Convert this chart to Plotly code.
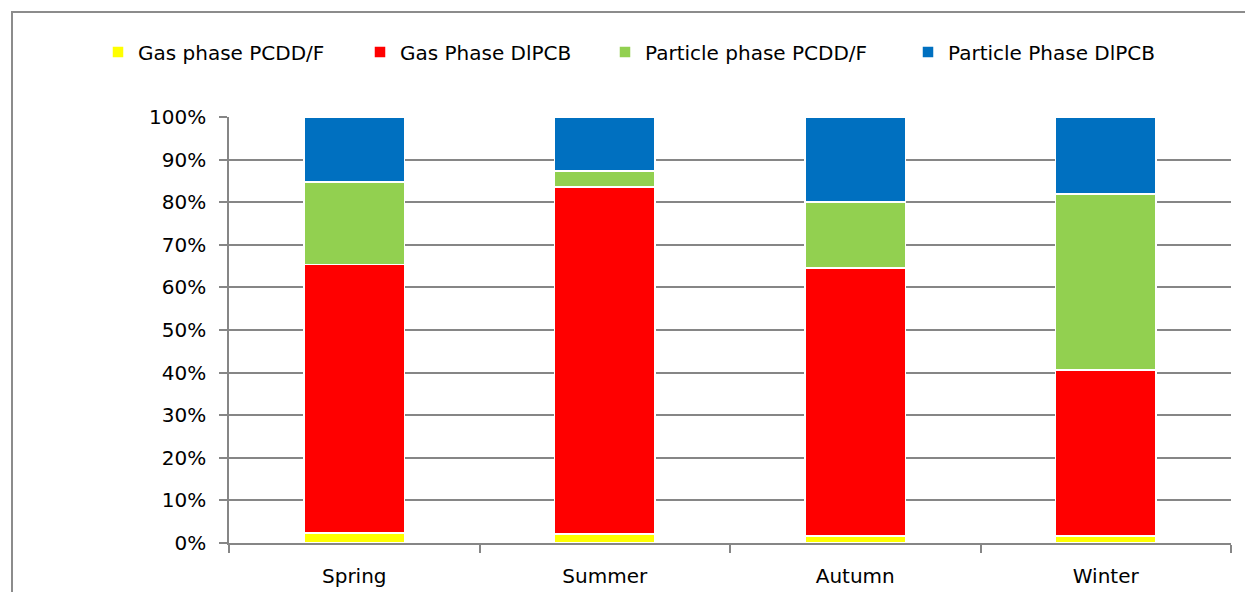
import plotly.graph_objects as go

seasons = ["Spring", "Summer", "Autumn", "Winter"]
gas_pcdd = [2.4, 2.1, 1.6, 1.7]
gas_dlpcb = [63.0, 81.5, 62.9, 38.9]
part_pcdd = [19.4, 3.7, 15.5, 41.3]
part_dlpcb = [15.2, 12.7, 20.0, 18.1]

series = [
    ("Gas phase PCDD/F", gas_pcdd, "#FFFF00"),
    ("Gas Phase DlPCB", gas_dlpcb, "#FF0000"),
    ("Particle phase PCDD/F", part_pcdd, "#92D050"),
    ("Particle Phase DlPCB", part_dlpcb, "#0070C0"),
]

FONT = "DejaVu Sans"
OFF = 8  # default page body margin
W, H = 1253 - OFF, 592 - OFF
L, T = 229 - OFF, 117 - OFF
pw, ph = 1002, 426
R, B = W - L - pw, H - T - ph

# legend text start positions (window px)
leg_text_x = [138, 400, 645, 948]
legend_ids = ["legend", "legend2", "legend3", "legend4"]

fig = go.Figure()
for (name, vals, col), lid in zip(series, legend_ids):
    fig.add_trace(go.Bar(
        x=seasons, y=vals, name=name, legend=lid,
        marker=dict(color=col, line=dict(color="white", width=1.5)),
        width=0.4,
    ))

legends = {}
for lid, tx in zip(legend_ids, leg_text_x):
    legends[lid] = dict(
        orientation="h", x=(tx - 40 - 229) / pw, xanchor="left",
        y=(543 - 52) / ph, yanchor="middle",
        font=dict(family=FONT, size=20, color="#000000"),
        bgcolor="rgba(0,0,0,0)", borderwidth=0, itemwidth=30,
    )

fx0 = (12 - 229) / pw
fx1 = (1260 - 229) / pw
fy0 = (543 - 600) / ph
fy1 = (543 - 12) / ph

fig.update_layout(
    barmode="stack",
    width=W, height=H,
    margin=dict(l=L, r=R, t=T, b=B, autoexpand=False),
    paper_bgcolor="white", plot_bgcolor="white",
    font=dict(family=FONT, size=20, color="#000000"),
    showlegend=True,
    **legends,
    xaxis=dict(
        type="category", showgrid=False, showline=True, linecolor="#868686", linewidth=1.5,
        ticks="outside", tickson="boundaries", ticklen=8, tickcolor="#868686", tickwidth=1.5,
        tickfont=dict(family=FONT, size=20), range=[-0.5, 3.5], ticklabelstandoff=14,
    ),
    yaxis=dict(
        range=[0, 100], tickvals=list(range(0, 101, 10)),
        ticktext=[f"{v}%" for v in range(0, 101, 10)],
        showgrid=True, gridcolor="#868686", gridwidth=1.5,
        showline=True, linecolor="#868686", linewidth=1.5,
        ticks="outside", ticklen=8, tickcolor="#868686", tickwidth=1.5,
        tickfont=dict(family=FONT, size=20), zeroline=False, ticklabelstandoff=9,
    ),
    shapes=[dict(
        type="path", xref="paper", yref="paper",
        path=f"M {fx0} {fy0} L {fx0} {fy1} L {fx1} {fy1}",
        line=dict(color="#8c8c8c", width=2), layer="below",
    )],
)

fig.write_html("out.html")
